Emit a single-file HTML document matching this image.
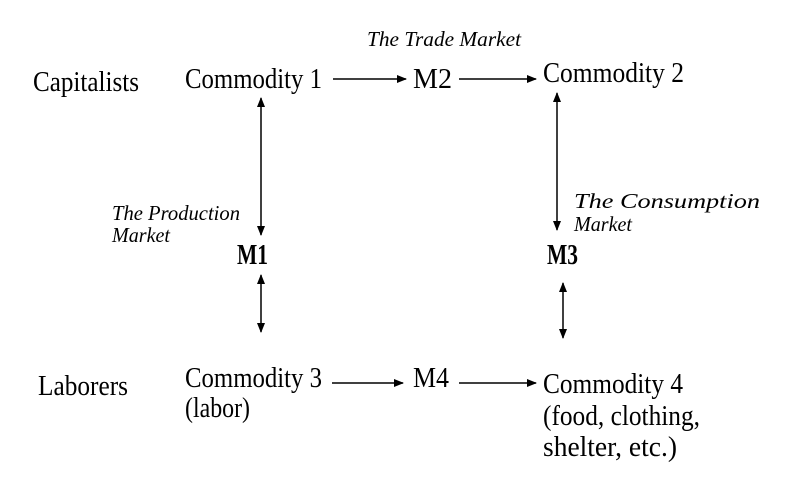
<!DOCTYPE html>
<html><head><style>
body{margin:0;width:800px;height:472px;background:#fff;overflow:hidden}
svg text{font-family:"Liberation Serif",serif;fill:#000}
.i{font-style:italic;font-size:21px}
.n{font-size:28px}
</style></head><body>
<svg width="800" height="472" viewBox="0 0 800 472">
<defs><marker id="a" markerWidth="10" markerHeight="8" refX="9" refY="4" orient="auto-start-reverse" markerUnits="userSpaceOnUse"><path d="M0,0L10,4L0,8z" fill="#000"/></marker></defs>
<g stroke="#000" stroke-width="1.5" fill="none">
<line x1="333" y1="79" x2="406" y2="79" marker-end="url(#a)"/>
<line x1="459" y1="79" x2="536" y2="79" marker-end="url(#a)"/>
<line x1="261" y1="98" x2="261" y2="235" marker-start="url(#a)" marker-end="url(#a)"/>
<line x1="557" y1="93" x2="557" y2="230" marker-start="url(#a)" marker-end="url(#a)"/>
<line x1="261" y1="275" x2="261" y2="332" marker-start="url(#a)" marker-end="url(#a)"/>
<line x1="563" y1="283" x2="563" y2="338" marker-start="url(#a)" marker-end="url(#a)"/>
<line x1="332" y1="383" x2="403" y2="383" marker-end="url(#a)"/>
<line x1="459" y1="383" x2="536" y2="383" marker-end="url(#a)"/>
</g>
<text class="i" x="367" y="46" textLength="154" lengthAdjust="spacingAndGlyphs">The Trade Market</text>
<text class="n" x="33" y="91" textLength="106" lengthAdjust="spacingAndGlyphs">Capitalists</text>
<text class="n" x="185" y="88" textLength="137" lengthAdjust="spacingAndGlyphs">Commodity 1</text>
<text class="n" x="413" y="88" textLength="39" lengthAdjust="spacingAndGlyphs">M2</text>
<text class="n" x="543" y="82" textLength="141" lengthAdjust="spacingAndGlyphs">Commodity 2</text>
<text class="i" x="112" y="220" textLength="128" lengthAdjust="spacingAndGlyphs">The Production</text>
<text class="i" x="112" y="242" textLength="58" lengthAdjust="spacingAndGlyphs">Market</text>
<text class="i" x="574" y="208" textLength="186" lengthAdjust="spacingAndGlyphs">The Consumption</text>
<text class="i" x="574" y="231" textLength="58" lengthAdjust="spacingAndGlyphs">Market</text>
<text class="n" x="237" y="264" font-weight="bold" textLength="31" lengthAdjust="spacingAndGlyphs">M1</text>
<text class="n" x="547" y="264" font-weight="bold" textLength="31" lengthAdjust="spacingAndGlyphs">M3</text>
<text class="n" x="38" y="395" textLength="90" lengthAdjust="spacingAndGlyphs">Laborers</text>
<text class="n" x="185" y="387" textLength="137" lengthAdjust="spacingAndGlyphs">Commodity 3</text>
<text class="n" x="185" y="417" textLength="65" lengthAdjust="spacingAndGlyphs">(labor)</text>
<text class="n" x="413" y="387" textLength="36" lengthAdjust="spacingAndGlyphs">M4</text>
<text class="n" x="543" y="393" textLength="140" lengthAdjust="spacingAndGlyphs">Commodity 4</text>
<text class="n" x="543" y="425" textLength="157" lengthAdjust="spacingAndGlyphs">(food, clothing,</text>
<text class="n" x="543" y="456" textLength="134" lengthAdjust="spacingAndGlyphs">shelter, etc.)</text>
</svg>
</body></html>
